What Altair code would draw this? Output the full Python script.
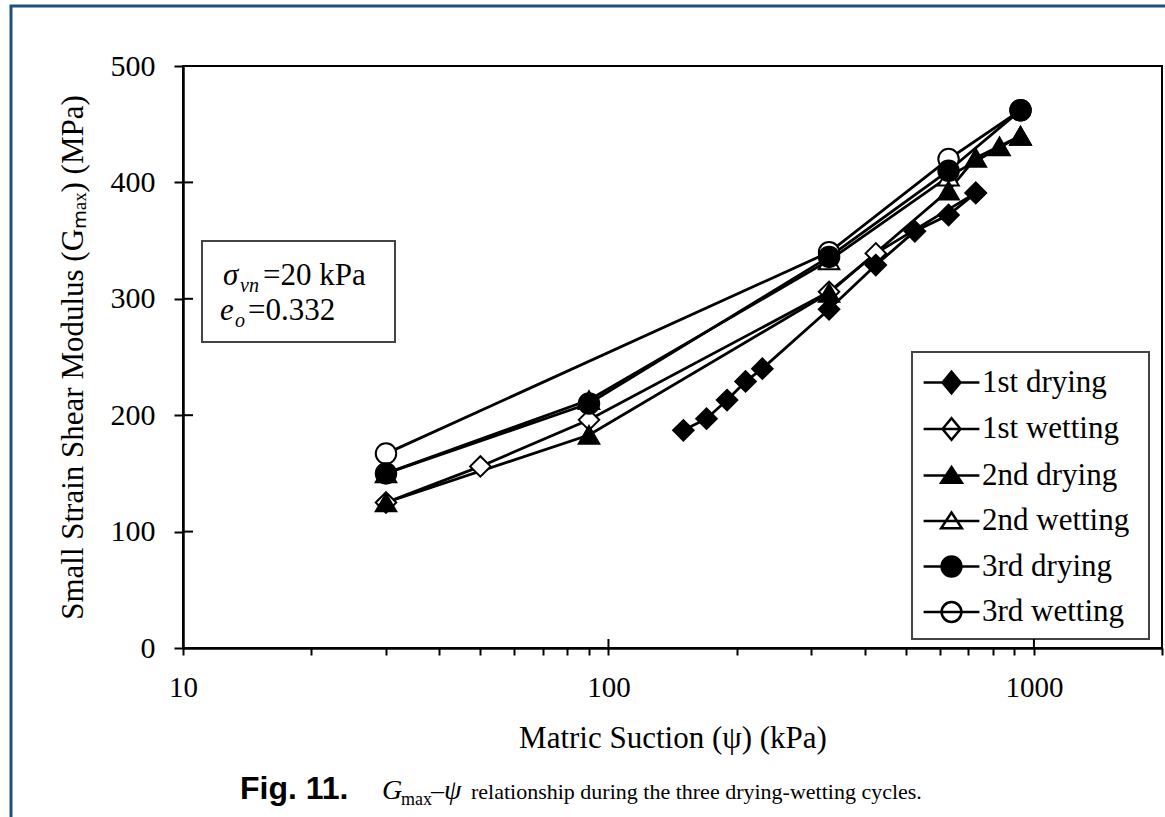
import altair as alt
import pandas as pd

SERIES = ["1st drying", "1st wetting", "2nd drying", "2nd wetting", "3rd drying", "3rd wetting"]

d1_x = [150, 170, 190, 210, 230, 330, 425, 525, 630, 730]
d1_y = [187, 197, 213, 229, 240, 291, 329, 358, 372, 391]
w1_x = [730, 425, 330, 90, 50, 30]
w1_y = [391, 339, 306, 196, 156, 125]
d2_x = [30, 90, 330, 630, 730, 830, 930]
d2_y = [125, 183, 305, 393, 421, 431, 440]
w2_x = [930, 630, 330, 90, 30]
w2_y = [440, 405, 333, 213, 150]
d3_x = [30, 90, 330, 630, 930]
d3_y = [150, 210, 336, 410, 462]
w3_x = [930, 630, 330, 30]
w3_y = [462, 420, 340, 167]

X_TICKS = [10, 20, 30, 40, 50, 60, 70, 80, 90, 100, 200, 300, 400, 500, 600, 700, 800, 900, 1000, 2000]
X_MAJOR = [10, 100, 1000]
Y_TICKS = [0, 100, 200, 300, 400, 500]

SHAPES = ["diamond", "diamond", "triangle-up", "triangle-up", "circle", "circle"]
FILLS = ["black", "white", "black", "white", "black", "white"]
STROKES = ["black"] * 6
LEG_PATHS = [
    "M-3.1,0H3.1M-1,0L0,-1.2L1,0L0,1.2Z",
    "M-3.1,0H3.1M-1,0L0,-1.2L1,0L0,1.2Z",
    "M-3.1,0H3.1M0,-0.95L1.15,0.8L-1.15,0.8Z",
    "M-3.1,0H3.1M0,-0.95L1.15,0.8L-1.15,0.8Z",
    "M-3.1,0H3.1M1.1,0A1.1,1.1,0,1,1,-1.1,0A1.1,1.1,0,1,1,1.1,0Z",
    "M-3.1,0H3.1M1.1,0A1.1,1.1,0,1,1,-1.1,0A1.1,1.1,0,1,1,1.1,0Z",
]

data = {
    "1st drying": (d1_x, d1_y),
    "1st wetting": (w1_x, w1_y),
    "2nd drying": (d2_x, d2_y),
    "2nd wetting": (w2_x, w2_y),
    "3rd drying": (d3_x, d3_y),
    "3rd wetting": (w3_x, w3_y),
}
rows = []
for s, (xs, ys) in data.items():
    for i, (xv, yv) in enumerate(zip(xs, ys)):
        rows.append({"series": s, "x": xv, "y": yv, "idx": i,
                     "z": (1 if "drying" in s else 0)})
df = pd.DataFrame(rows)
df_pts = df.sort_values(["z"], kind="stable").reset_index(drop=True)

W, H = 979, 582
SERIF = "Liberation Serif"

xscale = alt.Scale(type="log", domain=[10, 2000], nice=False)
yscale = alt.Scale(domain=[0, 500], nice=False)

xaxis = alt.Axis(values=X_TICKS, format="d",
                 labelExpr="(datum.value == 10 || datum.value == 100 || datum.value == 1000) ? datum.label : ''",
                 title="Matric Suction (ψ) (kPa)", grid=False, tickSize=7, tickWidth=2,
                 tickColor="black", domainColor="black", domainWidth=2.5,
                 labelFont=SERIF, labelFontSize=29, labelColor="black", labelPadding=18,
                 labelFlush=False, labelOverlap=False,
                 titleFont=SERIF, titleFontSize=31, titleFontWeight="normal",
                 titleColor="black", titlePadding=21)
yaxis = alt.Axis(values=Y_TICKS, title="Small Strain Shear Modulus (Gₘₐₓ) (MPa)",
                 grid=False, tickSize=9, tickWidth=2, tickColor="black",
                 domainColor="black", domainWidth=2.5,
                 labelFont=SERIF, labelFontSize=30, labelColor="black", labelPadding=19,
                 labelFlush=False, labelOverlap=False,
                 titleFont=SERIF, titleFontSize=31, titleFontWeight="normal",
                 titleColor="black", titlePadding=21)

X = alt.X("x:Q", scale=xscale, axis=xaxis)
Y = alt.Y("y:Q", scale=yscale, axis=yaxis)

one = pd.DataFrame({"a": [0]})

frame = alt.Chart(one).mark_rect(fill=None, stroke="#1f4f7f", strokeWidth=3).encode(
    x=alt.value(11 - 183), x2=alt.value(1175 - 183),
    y=alt.value(6 - 66), y2=alt.value(830 - 66))

annot_box = alt.Chart(one).mark_rect(fill="white", stroke="#444444", strokeWidth=2).encode(
    x=alt.value(19), x2=alt.value(212), y=alt.value(175), y2=alt.value(276))

legend_box = alt.Chart(one).mark_rect(fill="white", stroke="#444444", strokeWidth=2).encode(
    x=alt.value(729), x2=alt.value(966), y=alt.value(286), y2=alt.value(573))

xt = alt.Chart(pd.DataFrame({"x": X_MAJOR})).mark_rule(color="black", strokeWidth=2).encode(
    x=X, y=alt.value(H - 9), y2=alt.value(H))
yt = alt.Chart(pd.DataFrame({"y": Y_TICKS})).mark_rule(color="black", strokeWidth=2).encode(
    y=Y, x=alt.value(0), x2=alt.value(10))

lines = alt.Chart(df).mark_line(color="black", strokeWidth=2.8).encode(
    x=X, y=Y, detail="series:N", order="idx:Q")

points = alt.Chart(df_pts).mark_point(stroke="black", strokeWidth=2, opacity=1, fillOpacity=1).encode(
    x=X, y=Y,
    shape=alt.Shape("series:N", scale=alt.Scale(domain=SERIES, range=SHAPES), legend=None),
    fill=alt.Fill("series:N", scale=alt.Scale(domain=SERIES, range=FILLS), legend=None),
    size=alt.value(420),
)

leg = alt.Legend(title=None, orient="none", legendX=753, legendY=301, padding=0,
                 symbolSize=324, symbolStrokeColor="black", symbolStrokeWidth=2.5,
                 labelFont=SERIF, labelFontSize=31, labelColor="black", labelOffset=15,
                 labelLimit=400, rowPadding=13.5, symbolOpacity=1)
legend_layer = alt.Chart(df).transform_filter("false").mark_point(
    filled=True, strokeWidth=2.5, opacity=1).encode(
    x=X, y=Y,
    shape=alt.Shape("series:N", scale=alt.Scale(domain=SERIES, range=LEG_PATHS), legend=leg),
    fill=alt.Fill("series:N", scale=alt.Scale(domain=SERIES, range=FILLS), legend=leg),
    stroke=alt.Stroke("series:N", scale=alt.Scale(domain=SERIES, range=STROKES), legend=leg),
)


def txt(t, x, y, size, font=SERIF, style="normal", weight="normal"):
    return alt.Chart(one).mark_text(text=t, align="left", baseline="alphabetic", font=font,
                                    fontSize=size, fontStyle=style, fontWeight=weight,
                                    color="black").encode(x=alt.value(x), y=alt.value(y))


texts = [
    txt("σ", 40, 219, 31, style="italic"),
    txt("vn", 57, 226, 20, style="italic"),
    txt("=20 kPa", 80, 219, 31),
    txt("e", 37, 254, 31, style="italic"),
    txt("o", 52, 261, 20, style="italic"),
    txt("=0.332", 65, 254, 31),
    txt("Fig. 11.", 57, 733, 32, font="Liberation Sans", weight="bold"),
    txt("G", 199, 733, 28, style="italic"),
    txt("max", 218, 739, 18),
    txt("–", 248, 733, 26),
    txt("ψ", 261, 733, 28, style="italic"),
    txt("relationship during the three drying-wetting cycles.", 288, 733, 22),
]

chart = alt.layer(frame, annot_box, legend_box, xt, yt, lines, points, legend_layer, *texts).resolve_scale(
    shape="independent", fill="independent", stroke="independent"
).properties(
    width=W, height=H,
    autosize=alt.AutoSizeParams(type="none"),
    padding={"left": 183, "top": 66, "right": 3, "bottom": 169},
    background="white",
).configure_view(stroke="black", strokeWidth=2)

chart.save("out.html", embed_options={"renderer": "svg", "actions": False})
